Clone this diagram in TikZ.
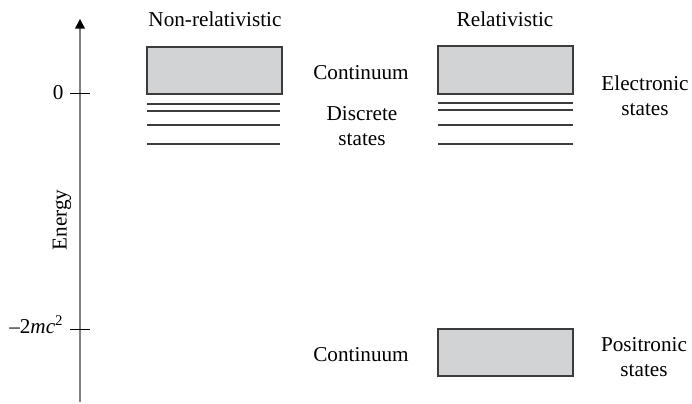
\documentclass[tikz,border=0pt]{standalone}
\usepackage{fontspec}
\setmainfont{Liberation Serif}
\usepackage{xcolor}
\usetikzlibrary{calc, positioning, arrows.meta}

\definecolor{bandgray}{HTML}{D2D3D5}
\definecolor{axisgray}{HTML}{808080}
\definecolor{linegray}{HTML}{3C3C3C}

\tikzset{
    band/.style={fill=bandgray, draw=linegray, line width=0.6pt},
    level/.style={draw=linegray, line width=0.55pt},
    lbl/.style={inner sep=0pt, font=\rmfamily\fontsize{10.6}{12.6}\selectfont, align=center}
}

\begin{document}
\begin{tikzpicture}[x=0.5pt, y=-0.5pt]

    % =================================================================
    % 1. KHUNG VÀ TRỤC NĂNG LƯỢNG
    % =================================================================
    \useasboundingbox (0,0) rectangle (692,403);
    \coordinate (Bot) at (80,402);
    \coordinate (Top) at (80,19);
    \draw[axisgray, line width=0.7pt] (Bot) -- ($(Top)+(0,8)$);
    \fill (Top) -- ($(Top)+(-5,9.5)$) -- ($(Top)+(5,9.5)$) -- cycle;

    % Vạch chia tại 0 và -2mc^2
    \coordinate (Z) at (80,93);
    \coordinate (Q) at (80,329);
    \draw[line width=0.5pt] ($(Z)+(-10,0)$) -- ($(Z)+(10,0)$);
    \draw[line width=0.5pt] ($(Q)+(-10,0)$) -- ($(Q)+(10,0)$);

    \node[lbl, left=8pt] (zero) at (Z) {0};
    \node[lbl, left=8pt] (twomc) at ($(Q)+(0,-4)$) {–2\textit{mc}\textsuperscript{2}};
    \node[lbl, rotate=90] (energy) at (62,220) {Energy};

    % =================================================================
    % 2. PHỔ KHÔNG TƯƠNG ĐỐI TÍNH
    % =================================================================
    \node[lbl] (nonrel) at (215,19) {Non-relativistic};
    \draw[band] (147,47) rectangle (282,94);
    \foreach \y in {104,111,125,144}
        \draw[level] (147,\y) -- (280,\y);

    % =================================================================
    % 3. PHỔ TƯƠNG ĐỐI TÍNH
    % =================================================================
    \node[lbl] (rel) at (505,19) {Relativistic};
    \draw[band] (438,46) rectangle (573,94);
    \foreach \y in {103,110,125,144}
        \draw[level] (438,\y) -- (573,\y);
    \draw[band] (438,329) rectangle (573,376);

    % =================================================================
    % 4. NHÃN CÁC VÙNG
    % =================================================================
    \node[lbl] (contA) at (361,73) {Continuum};
    \node[lbl] (disc) at (362,126) {Discrete\\states};
    \node[lbl] (elec) at (645,96) {Electronic\\states};
    \node[lbl] (contB) at (361,355) {Continuum};
    \node[lbl] (posi) at (644,357) {Positronic\\states};

\end{tikzpicture}
\end{document}
